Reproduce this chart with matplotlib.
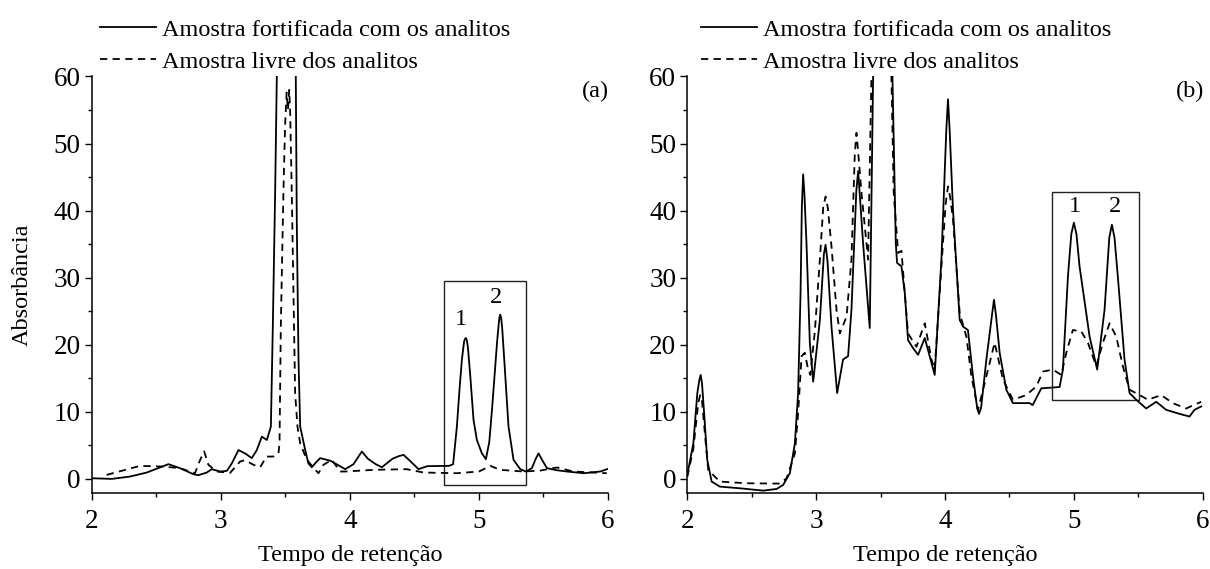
import numpy as np
import matplotlib
matplotlib.use('Agg')
import matplotlib.pyplot as plt
from matplotlib.patches import Rectangle

plt.rcParams['font.family'] = ['Liberation Serif', 'DejaVu Serif']

# (a) amostra fortificada (solid) / amostra livre (dashed)
a_fort_x = [2.0, 2.155, 2.297, 2.426, 2.555, 2.594, 2.684, 2.788, 2.826, 2.891, 2.93, 2.995,
            3.047, 3.085, 3.137, 3.188, 3.24, 3.279, 3.318, 3.357, 3.388, 3.403, 3.421, 3.434,
            3.44, 3.575, 3.581, 3.589, 3.602, 3.615, 3.654, 3.679, 3.705, 3.744, 3.77, 3.85,
            3.964, 4.028, 4.093, 4.14, 4.2, 4.248, 4.33, 4.38, 4.416, 4.46, 4.532, 4.6, 4.77,
            4.80, 4.829, 4.85, 4.868, 4.885, 4.893, 4.899, 4.907, 4.915, 4.933, 4.958, 4.984,
            5.023, 5.054, 5.08, 5.101, 5.14, 5.155, 5.16, 5.165, 5.172, 5.18, 5.196, 5.229,
            5.268, 5.32, 5.364, 5.41, 5.44, 5.462, 5.49, 5.527, 5.6, 5.682, 5.811, 5.94, 6.0]
a_fort_y = [0.1, 0.0, 0.35, 0.95, 1.9, 2.2, 1.6, 0.7, 0.55, 0.95, 1.45, 1.1,
            1.2, 2.3, 4.3, 3.8, 3.1, 4.3, 6.3, 5.8, 7.8, 22.7, 42.6, 60,
            75, 75, 60, 37.7, 17.8, 7.8, 4.3, 2.3, 1.74, 2.6, 3.1, 2.7,
            1.45, 2.2, 4.08, 3.0, 2.2, 1.74, 3.0, 3.4, 3.58, 2.8, 1.45, 1.9, 1.95,
            2.2, 7.8, 13.5, 17.8, 20.5, 20.9, 21.0, 20.6, 19.5, 15.3, 8.8, 5.8,
            3.8, 2.94, 5.5, 10.3, 20.3, 23.5, 24.2, 24.5, 24.0, 22.5, 17.8, 7.8,
            2.84, 1.45, 1.1, 1.6, 3.0, 3.8, 2.8, 1.6, 1.3, 1.1, 0.85, 1.1, 1.5]

a_livre_x = [2.116, 2.25, 2.374, 2.555, 2.684, 2.80, 2.84, 2.871, 2.904, 2.969, 3.072, 3.15,
             3.188, 3.253, 3.305, 3.354, 3.406, 3.447, 3.455, 3.465, 3.485, 3.498, 3.51, 3.52,
             3.53, 3.537, 3.55, 3.563, 3.576, 3.594, 3.615, 3.667, 3.744, 3.757, 3.795, 3.86,
             3.925, 3.964, 4.183, 4.44, 4.57, 4.829, 5.0, 5.088, 5.165, 5.346, 5.475, 5.604,
             5.733, 5.99]
a_livre_y = [0.6, 1.3, 1.94, 1.84, 1.6, 0.85, 2.84, 4.1, 2.1, 1.1, 0.9, 2.6,
             2.8, 2.1, 1.74, 3.33, 3.33, 3.8, 5.4, 22.7, 42.6, 52.6, 57.6, 55,
             58, 55, 42.6, 27.7, 12.8, 7.8, 5.3, 2.84, 1.1, 0.85, 2.1, 2.84,
             1.1, 1.1, 1.35, 1.45, 0.95, 0.85, 1.1, 1.94, 1.35, 1.1, 1.24, 1.7,
             1.1, 0.85]

# (b)
b_fort_x = [2.0, 2.047, 2.078, 2.094, 2.104, 2.114, 2.129, 2.155, 2.189, 2.253, 2.409, 2.589,
            2.693, 2.744, 2.796, 2.835, 2.86, 2.879, 2.889, 2.899, 2.909, 2.925, 2.951, 2.977,
            3.029, 3.06, 3.073, 3.088, 3.119, 3.163, 3.209, 3.248, 3.274, 3.312, 3.326, 3.34,
            3.364, 3.416, 3.442, 3.45, 3.585, 3.592, 3.618, 3.628, 3.662, 3.688, 3.713, 3.752,
            3.791, 3.843, 3.881, 3.92, 3.972, 4.01, 4.023, 4.036, 4.062, 4.114, 4.14, 4.178,
            4.217, 4.25, 4.264, 4.28, 4.321, 4.365, 4.38, 4.395, 4.424, 4.476, 4.527, 4.657,
            4.68, 4.747, 4.889, 4.915, 4.954, 4.98, 5.0, 5.02, 5.044, 5.122, 5.181, 5.238,
            5.275, 5.295, 5.315, 5.341, 5.393, 5.432, 5.484, 5.561, 5.639, 5.716, 5.819, 5.897,
            5.936, 5.988]
b_fort_y = [0.6, 5.3, 12.8, 14.8, 15.5, 14.3, 10.3, 2.84, -0.4, -1.15, -1.4, -1.75,
            -1.5, -0.9, 0.85, 5.3, 12.8, 27.7, 40.5, 45.4, 42.5, 35.2, 20.3, 14.5,
            23.7, 33.5, 34.9, 32.5, 22.7, 12.8, 17.8, 18.3, 25.2, 43.0, 45.9, 42.0,
            35.2, 22.5, 60, 75, 75, 60, 35.2, 32.2, 31.7, 27.7, 20.7, 19.5,
            18.5, 21.0, 18.3, 15.5, 32.7, 52.0, 56.6, 52.0, 40.1, 23.7, 22.7, 22.2,
            15.3, 10.5, 9.7, 10.6, 17.8, 24.5, 26.7, 24.5, 18.8, 13.3, 11.3, 11.3,
            11.0, 13.5, 13.7, 16.3, 30.2, 36.5, 38.2, 36.5, 31.7, 21.2, 16.3, 25.2,
            36.0, 37.9, 36.0, 30.2, 17.8, 12.8, 11.8, 10.5, 11.5, 10.3, 9.7, 9.3,
            10.3, 10.8]

b_livre_x = [2.0, 2.047, 2.085, 2.10, 2.115, 2.14, 2.163, 2.253, 2.46, 2.719, 2.771, 2.835,
             2.86, 2.887, 2.912, 2.938, 2.955, 2.99, 3.03, 3.055, 3.073, 3.09, 3.119, 3.158,
             3.184, 3.236, 3.274, 3.3, 3.313, 3.327, 3.352, 3.403, 3.429, 3.435, 3.58, 3.584,
             3.602, 3.636, 3.662, 3.688, 3.713, 3.778, 3.843, 3.895, 3.92, 3.972, 4.005, 4.023,
             4.04, 4.062, 4.114, 4.166, 4.205, 4.256, 4.321, 4.385, 4.45, 4.527, 4.631, 4.709,
             4.76, 4.837, 4.902, 4.941, 4.992, 5.057, 5.109, 5.174, 5.225, 5.277, 5.329, 5.38,
             5.432, 5.51, 5.574, 5.678, 5.767, 5.871, 5.988]
b_livre_y = [0.3, 4.5, 11.3, 12.5, 11.5, 6.0, 1.3, -0.4, -0.65, -0.7, 0.1, 3.8,
             9.8, 18.3, 18.8, 16.3, 15.5, 22, 33, 40.5, 42.1, 40.5, 34.7, 25.2,
             21.7, 24.2, 32.7, 48.5, 51.6, 48.5, 42.6, 32.7, 60, 75, 75, 60,
             42.6, 33.7, 34.0, 27.7, 21.7, 19.7, 23.2, 17.8, 16.3, 31.7, 41.0, 43.6,
             42.0, 38.7, 24.7, 21.2, 15.3, 10.3, 15.3, 20.3, 14.8, 11.8, 12.5, 13.8,
             16.0, 16.3, 15.5, 18.8, 22.2, 22.0, 20.3, 16.8, 20.3, 23.2, 21.2, 16.8,
             13.3, 12.5, 11.8, 12.5, 11.3, 10.5, 11.5]

labels = ['Amostra fortificada com os analitos', 'Amostra livre dos analitos']

fig = plt.figure(figsize=(12.1, 5.69), dpi=100)
ax1 = fig.add_axes([0.0758, 0.133, 0.4267, 0.7326])
ax2 = fig.add_axes([0.568, 0.133, 0.426, 0.7326])

panels = [(ax1, a_fort_x, a_fort_y, a_livre_x, a_livre_y, '(a)',
           (4.733, -0.9, 0.631, 30.35), [(4.86, 23.7, '1'), (5.13, 27.0, '2')], 0.016),
          (ax2, b_fort_x, b_fort_y, b_livre_x, b_livre_y, '(b)',
           (4.833, 11.8, 0.671, 31.0), [(5.01, 40.6, '1'), (5.32, 40.6, '2')], 0.027)]

for ax, fx, fy, lx, ly, tag, rect, nums, legx in panels:
    ax.plot(fx, fy, color='black', lw=1.3, label=labels[0])
    ax.plot(lx, ly, color='black', lw=1.3, linestyle=(0, (4, 3)), label=labels[1])
    ax.set_xlim(2, 6)
    ax.set_ylim(-2.15, 60)
    ax.set_xticks([2, 3, 4, 5, 6])
    ax.set_xticks([2.5, 3.5, 4.5, 5.5], minor=True)
    ax.set_yticks([0, 10, 20, 30, 40, 50, 60])
    ax.set_yticks([5, 15, 25, 35, 45, 55], minor=True)
    for s in ['top', 'right']:
        ax.spines[s].set_visible(False)
    for s in ['left', 'bottom']:
        ax.spines[s].set_linewidth(1.1)
    ax.tick_params(axis='both', which='major', length=5, width=1.0, labelsize=19.5, direction='out')
    ax.tick_params(axis='both', which='minor', length=3, width=1.0, direction='out')
    ax.tick_params(axis='y', pad=3)
    ax.tick_params(axis='x', pad=6)
    ax.add_patch(Rectangle((rect[0], rect[1]), rect[2], rect[3], fill=False,
                           edgecolor='#222222', lw=1.0, clip_on=False))
    for nx, ny, t in nums:
        ax.text(nx, ny, t, fontsize=17.5, ha='center', va='center')
    ax.text(5.9, 57.7, tag, fontsize=17.5, ha='center', va='center')
    ax.set_xlabel('Tempo de retenção', fontsize=17.5)
    ax.xaxis.set_label_coords(0.5, -0.125)
    ax.legend(loc='upper left', bbox_to_anchor=(legx, 1.138), frameon=False,
              fontsize=17.5, handlelength=2.3, handletextpad=0.25, borderpad=0,
              borderaxespad=0, labelspacing=0.4)

ax1.set_ylabel('Absorbância', fontsize=17.5)
ax1.yaxis.set_label_coords(-0.115, 0.5)

fig.savefig('out.png', dpi=100)
